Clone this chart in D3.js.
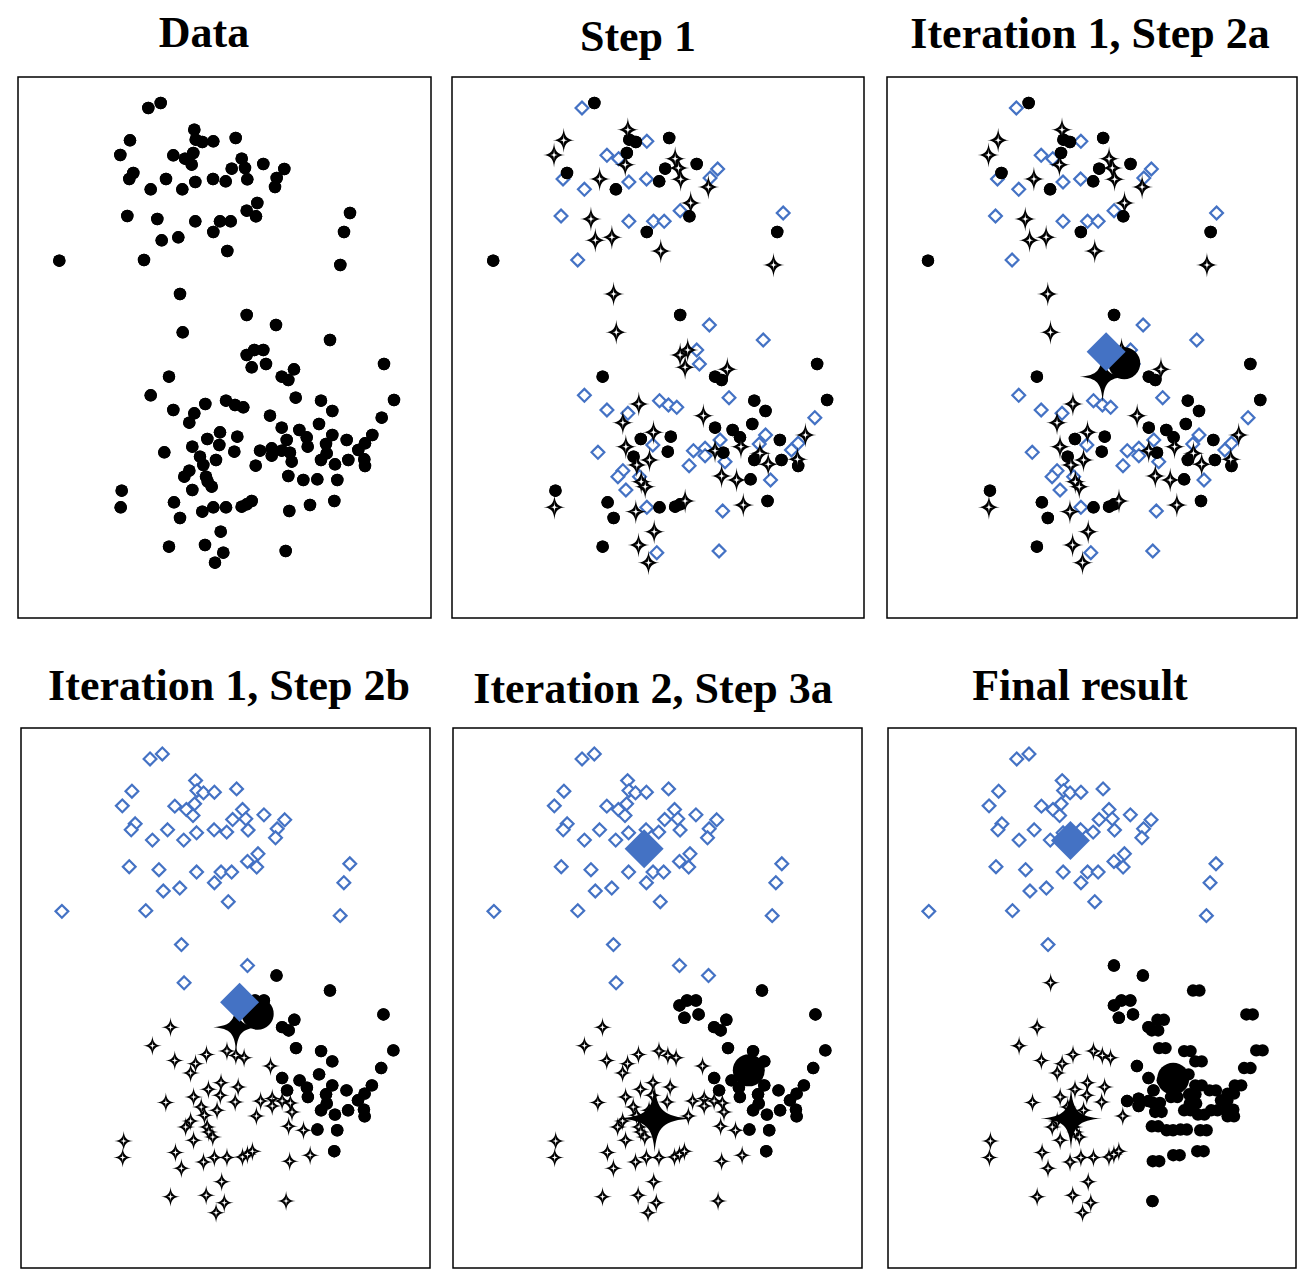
<!DOCTYPE html>
<html>
<head>
<meta charset="utf-8">
<title>k-means steps</title>
<script src="https://cdn.jsdelivr.net/npm/d3@7"></script>
<style>
  body { margin: 0; background: #fff; }
  svg { display: block; }
  .title { font-family: "Liberation Serif", "Times New Roman", serif; font-weight: bold; font-size: 44px; }
</style>
</head>
<body>
<div id="chart"></div>
<script>
// the same point cloud is used in every panel (plot units)
var pointX = [
  13.03, 14.27, 17.63, 11.2, 17.77, 18.43, 19.53, 21.77, 10.23, 15.53,
  17.53, 16.7, 17.37, 22.37, 21.37, 22.7, 24.53, 26.63, 11.53, 11.13,
  14.8, 17.73, 19.5, 20.77, 22.93, 25.87, 25.7, 13.27, 16.43, 23.93,
  22.87, 23.8, 10.93, 13.93, 17.73, 20.2, 21.27, 19.53, 16.03, 14.37,
  20.93, 4.13, 12.6, 33.2, 32.6, 32.23,
  16.2, 22.87, 25.8, 31.2, 16.47, 22.87, 23.63, 24.53, 23.37, 24.8,
  27.6, 26.37, 27.03, 36.6, 15.1, 13.27, 15.53, 17.63, 17.13, 18.73,
  20.8, 21.7, 22.53, 27.77, 30.3, 31.43, 37.6, 36.37, 25.2, 26.37,
  28.13, 30.1, 28.87, 28.97, 26.87, 31.43, 32.87, 35.43, 34.7, 30.8,
  30.87, 30.3, 31.7, 33.03, 34.03, 34.63, 34.7, 20.2, 21.93, 18.93,
  20.13, 21.63, 17.43, 14.63, 18.2, 18.53, 19.8, 24.2, 25.37, 25.37,
  26.37, 27.2, 27.37, 23.77, 17.13, 16.63, 18.8, 18.97, 19.37, 17.43,
  27.03, 28.53, 29.93, 31.93, 10.37, 10.27, 15.6, 16.2, 18.43, 19.53,
  20.8, 22.37, 22.87, 23.37, 27.13, 29.2, 31.63, 20.27, 15.1, 18.7,
  20.53, 19.7, 26.77
];
var pointY = [
  51.0, 51.5, 48.83, 47.77, 47.83, 47.6, 47.67, 48.0, 46.3, 46.27,
  46.5, 45.93, 45.33, 45.93, 44.93, 45.0, 45.4, 44.9, 44.5, 43.9,
  43.9, 43.6, 43.9, 43.67, 43.87, 44.0, 43.1, 42.87, 42.87, 41.5,
  40.73, 40.17, 40.2, 39.9, 39.67, 39.67, 39.67, 38.6, 38.07, 37.77,
  36.7, 35.73, 35.8, 40.5, 38.6, 35.3,
  32.4, 30.3, 29.3, 27.8, 28.57, 26.3, 26.8, 26.8, 25.07, 25.4,
  24.87, 24.13, 23.8, 25.4, 24.13, 22.27, 20.8, 20.47, 19.53, 21.4,
  21.73, 21.3, 21.07, 22.03, 21.73, 20.7, 21.8, 20.03, 20.23, 19.03,
  18.8, 19.4, 18.07, 17.13, 17.8, 18.3, 17.8, 18.3, 17.47, 17.4,
  16.47, 15.8, 15.37, 15.8, 16.8, 15.87, 15.2, 18.57, 18.13, 17.9,
  17.3, 16.63, 17.13, 16.57, 16.13, 15.3, 15.8, 16.73, 16.97, 16.23,
  16.73, 16.53, 15.63, 15.23, 14.73, 14.13, 14.13, 13.63, 13.13, 12.8,
  14.2, 13.8, 13.87, 13.8, 12.73, 11.07, 11.57, 10.0, 10.63, 11.07,
  11.07, 11.13, 11.37, 11.7, 10.7, 11.3, 11.7, 8.63, 7.13, 7.3,
  6.53, 5.53, 6.7
];

// cluster of each point: d = blue diamond, o = dot, s = star
var labelsData = [
  "oooooooooo", "oooooooooo", "oooooooooo", "oooooooooo", "oooooo",
  "oooooooooo", "oooooooooo", "oooooooooo", "oooooooooo", "oooooooooo",
  "oooooooooo", "oooooooooo", "oooooooooo", "oooooooooo", "ooo"
].join("");
var labelsStep1 = [
  "dossoodosd", "odssosodod", "sddosdsdos", "dodsdddoss", "soddos",
  "soddsssdsd", "soooodddss", "ddddooodso", "ooosddosdd", "sosodsosoo",
  "dosdossddd", "sodddddssd", "ssodosoosd", "ooosdsosos", "dsd"
].join("");
var labelsStep2b = [
  "dddddddddd", "dddddddddd", "dddddddddd", "dddddddddd", "dddddd",
  "ddoodooooo", "oooossssss", "sssoooooso", "oooooooooo", "ooooooosss",
  "ssssssssss", "ssssssssss", "ssoossssss", "ssssssosss", "sss"
].join("");
var labelsStep3a = [
  "dddddddddd", "dddddddddd", "dddddddddd", "dddddddddd", "dddddd",
  "dddodooooo", "oooossssss", "sssoooooso", "oooooooooo", "ooooooosss",
  "ssssssssss", "ssssssssss", "ssoossssss", "ssssssosss", "sss"
].join("");
var labelsFinal = [
  "dddddddddd", "dddddddddd", "dddddddddd", "dddddddddd", "dddddd",
  "dooosooooo", "oooossssss", "sssooooooo", "oooooooooo", "ooooooosss",
  "sssssssooo", "ooosssssss", "oooossssss", "ssssooosss", "sso"
].join("");

// cluster centres [shape, x, y]
var centroidsIter1 = [["s", 21.73, 24.13], ["o", 23.9, 25.47], ["d", 22.07, 26.63]];
var centroidsIter2 = [["s", 20.37, 14.97], ["o", 29.87, 19.8], ["d", 19.3, 42.0]];
var centroidsFinal = [["s", 18.53, 14.97], ["o", 28.87, 18.97], ["d", 18.47, 42.83]];

var titles = ["Data", "Step 1", "Iteration 1, Step 2a", "Iteration 1, Step 2b", "Iteration 2, Step 3a", "Final result"];

var blue = "#4472C4";

// dbl: in the final panel the right-hand dots are drawn as overlapping pairs
var panels = [
  {title: titles[0], tx: 204, ty: 47, box: [18, 77, 431, 618], labels: labelsData, cents: null, star: [11, 12.5], bigStar: null, dbl: 0},
  {title: titles[1], tx: 638, ty: 51, box: [452, 77, 864, 618], labels: labelsStep1, cents: null, star: [11, 12.5], bigStar: null, dbl: 0},
  {title: titles[2], tx: 1090, ty: 48, box: [887, 77, 1297, 618], labels: labelsStep1, cents: centroidsIter1, star: [11, 12.5], bigStar: [23, 26], dbl: 0},
  {title: titles[3], tx: 229, ty: 700, box: [21, 728, 430, 1268], labels: labelsStep2b, cents: centroidsIter1, star: [9.5, 10], bigStar: [23, 26], dbl: 0},
  {title: titles[4], tx: 653, ty: 703, box: [453, 728, 862, 1268], labels: labelsStep3a, cents: centroidsIter2, star: [9.5, 10], bigStar: [37, 34], dbl: 0},
  {title: titles[5], tx: 1080, ty: 700, box: [888, 728, 1296, 1268], labels: labelsFinal, cents: centroidsFinal, star: [9.5, 10], bigStar: [31, 31], dbl: 3.2}
];

// four pointed star with concave sides; k sets how full the arms are
function starPath(rx, ry, k) {
  var ax = k * rx, ay = k * ry, bx = 0.05 * rx, by = 0.05 * ry;
  return "M0," + (-ry) +
    "C" + bx + "," + (-ay) + " " + ax + "," + (-by) + " " + rx + ",0" +
    "C" + ax + "," + by + " " + bx + "," + ay + " 0," + ry +
    "C" + (-bx) + "," + ay + " " + (-ax) + "," + by + " " + (-rx) + ",0" +
    "C" + (-ax) + "," + (-by) + " " + (-bx) + "," + (-ay) + " 0," + (-ry) + "Z";
}
function diamondPath(h) {
  return "M0," + (-h) + "L" + h + ",0L0," + h + "L" + (-h) + ",0Z";
}

var svg = d3.select("#chart").append("svg")
  .attr("width", 1306)
  .attr("height", 1278);

panels.forEach(function(p) {
  var x = d3.scaleLinear().domain([0, 41.3]).range([p.box[0], p.box[2]]);
  var y = d3.scaleLinear().domain([0, 54.1]).range([p.box[3], p.box[1]]);
  var g = svg.append("g");

  svg.append("text")
    .attr("class", "title")
    .attr("x", p.tx)
    .attr("y", p.ty)
    .attr("text-anchor", "middle")
    .text(p.title);

  g.append("rect")
    .attr("x", p.box[0])
    .attr("y", p.box[1])
    .attr("width", p.box[2] - p.box[0])
    .attr("height", p.box[3] - p.box[1])
    .attr("fill", "none")
    .attr("stroke", "#000")
    .attr("stroke-width", 1.5);

  var pts = pointX.map(function(v, i) {
    return {x: v, y: pointY[i], c: p.labels[i]};
  });

  g.selectAll("path.dia")
    .data(pts.filter(function(d) { return d.c === "d"; }))
    .enter().append("path")
    .attr("class", "dia")
    .attr("d", diamondPath(6.4))
    .attr("transform", function(d) { return "translate(" + x(d.x) + "," + y(d.y) + ")"; })
    .attr("fill", "#fff")
    .attr("stroke", blue)
    .attr("stroke-width", 2.2);

  var dots = pts.filter(function(d) { return d.c === "o"; });
  [-1, 1].forEach(function(side) {
    g.selectAll("circle.dot" + side)
      .data(dots)
      .enter().append("circle")
      .attr("cx", function(d) { return x(d.x) + (d.x > 27 ? side * p.dbl : 0); })
      .attr("cy", function(d) { return y(d.y); })
      .attr("r", 6.2)
      .attr("fill", "#000");
  });

  var stars = g.selectAll("g.star")
    .data(pts.filter(function(d) { return d.c === "s"; }))
    .enter().append("g")
    .attr("class", "star")
    .attr("transform", function(d) { return "translate(" + x(d.x) + "," + y(d.y) + ")"; });
  stars.append("path")
    .attr("d", starPath(p.star[0], p.star[1], 0.32))
    .attr("fill", "#000");
  stars.append("path")
    .attr("d", starPath(p.star[0] * 0.5, p.star[1] * 0.5, 0.05))
    .attr("fill", "#fff");

  if (p.cents) {
    p.cents.forEach(function(c) {
      var tr = "translate(" + x(c[1]) + "," + y(c[2]) + ")";
      if (c[0] === "s") {
        g.append("path").attr("d", starPath(p.bigStar[0], p.bigStar[1], 0.24)).attr("transform", tr).attr("fill", "#000");
      } else if (c[0] === "o") {
        g.append("circle").attr("cx", x(c[1])).attr("cy", y(c[2])).attr("r", 16).attr("fill", "#000");
      } else {
        g.append("path").attr("d", diamondPath(19.5)).attr("transform", tr).attr("fill", blue);
      }
    });
  }
});
</script>
</body>
</html>
